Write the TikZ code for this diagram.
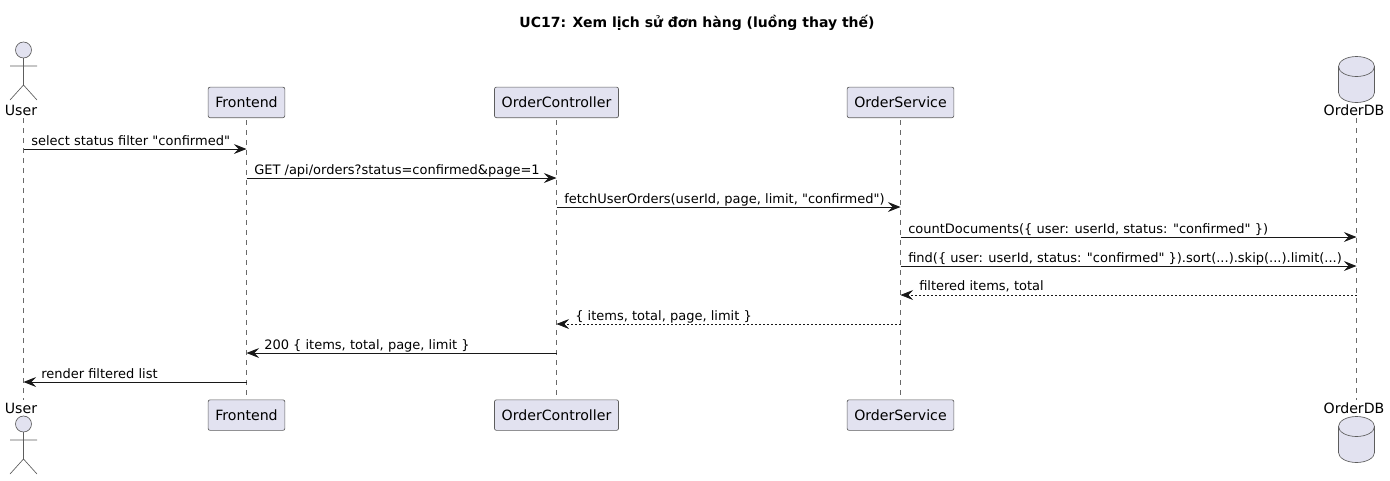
\documentclass[tikz,border=0pt]{standalone}
\usepackage{fontspec}
\setmainfont[Ligatures=TeXOff]{DejaVu Sans}
\usetikzlibrary{arrows.meta,calc}
\definecolor{partfill}{HTML}{E2E2F0}
\definecolor{partline}{HTML}{181818}
\tikzset{
	partbox/.style={draw=partline!70,line width=.5pt,fill=partfill,rounded corners=1.5pt,minimum height=22.9pt,inner xsep=5.4pt,inner ysep=0pt,font=\fontsize{10.6}{12}\selectfont},
	partname/.style={inner sep=0pt,text height=8pt,text depth=.5pt,font=\fontsize{10.6}{12}\selectfont},
	lifeline/.style={draw=partline!65,line width=.5pt,dash pattern=on 3.75pt off 3.75pt},
	msg/.style={draw=partline,line width=.75pt,-{Stealth[length=9.5pt,width=7.5pt,inset=3.5pt]}},
	reply/.style={msg,line width=.5pt,dash pattern=on 1.5pt off 1.5pt},
	msgtext/.style={anchor=base west,inner sep=0pt,font=\fontsize{9.75}{12}\selectfont},
	actorman/.pic={
		\draw[draw=partline!70,line width=.5pt,fill=partfill] (0,0) circle (8);
		\draw[draw=partline!70,line width=.5pt] (0,8)--(0,35) (-13.5,16)--(13.5,16) (-13.5,50)--(0,35)--(13.5,50);
	},
	dbdrum/.pic={
		\draw[draw=partline!70,line width=.5pt,fill=partfill] (-18,0) arc[start angle=180,end angle=360,x radius=18,y radius=10] -- (18,26) arc[start angle=0,end angle=180,x radius=18,y radius=10] -- cycle;
		\draw[draw=partline!70,line width=.5pt] (-18,0) arc[start angle=180,end angle=0,x radius=18,y radius=10];
	}
}
\begin{document}
\begin{tikzpicture}[x=.75pt,y=-.75pt]
	\useasboundingbox (0,0) rectangle (1390,480);
	\node[font=\bfseries\fontsize{10.5}{12}\selectfont] (title) at (697,22.5) {UC17: Xem lịch sử đơn hàng (luồng thay thế)};
	% participants
	\foreach \pname/\px in {Frontend/246.5,OrderController/556.5,OrderService/900.5}{
		\node[partbox,anchor=south] (\pname) at (\px,118) {\pname};
		\node[partbox,anchor=north] (\pname B) at (\px,399.5) {\pname};
	}
	\coordinate (User) at (23.5,116);
	\coordinate (UserB) at (23.5,401.5);
	\coordinate (OrderDB) at (1356.5,116);
	\coordinate (OrderDBB) at (1356.5,401.5);
	\node[partname,anchor=south] (usertop) at (21,116) {User};
	\node[partname,anchor=north] (userbot) at (21,402.5) {User};
	\node[partname,anchor=south] (dbtop) at (1354,116) {OrderDB};
	\node[partname,anchor=north] (dbbot) at (1354,402.5) {OrderDB};
	\draw (23.5,50) pic {actorman} (23.5,424) pic {actorman};
	\draw (1356.5,66.5) pic {dbdrum} (1356.5,426.5) pic {dbdrum};
	\foreach \pname in {User,Frontend,OrderController,OrderService,OrderDB}
		\draw[lifeline] (\pname.south)++(0,2) -- ($(\pname B.north)+(0,-2)$);
	% messages
	\draw[msg] (User |- 0,149) -- (Frontend |- 0,149);
	\node[msgtext] (m1) at (31,145) {select status filter "confirmed"};
	\draw[msg] (Frontend |- 0,178) -- (OrderController |- 0,178);
	\node[msgtext] (m2) at (254,174) {GET /api/orders?status=confirmed\&page=1};
	\draw[msg] (OrderController |- 0,207) -- (OrderService |- 0,207);
	\node[msgtext] (m3) at (564,203) {fetchUserOrders(userId, page, limit, "confirmed")};
	\draw[msg] (OrderService |- 0,237) -- (OrderDB |- 0,237);
	\node[msgtext] (m4) at (908,233) {countDocuments(\{ user: userId, status: "confirmed" \})};
	\draw[msg] (OrderService |- 0,266) -- (OrderDB |- 0,266);
	\node[msgtext] (m5) at (908,262) {find(\{ user: userId, status: "confirmed" \}).sort(...).skip(...).limit(...)};
	\draw[reply] (OrderDB |- 0,295) -- (OrderService |- 0,295);
	\node[msgtext] (m6) at (919,290.5) {filtered items, total};
	\draw[reply] (OrderService |- 0,324) -- (OrderController |- 0,324);
	\node[msgtext] (m7) at (575,320) {\{ items, total, page, limit \}};
	\draw[msg] (OrderController |- 0,353) -- (Frontend |- 0,353);
	\node[msgtext] (m8) at (264,349) {200 \{ items, total, page, limit \}};
	\draw[msg] (Frontend |- 0,382) -- (User |- 0,382);
	\node[msgtext] (m9) at (41,378) {render filtered list};
\end{tikzpicture}
\end{document}
